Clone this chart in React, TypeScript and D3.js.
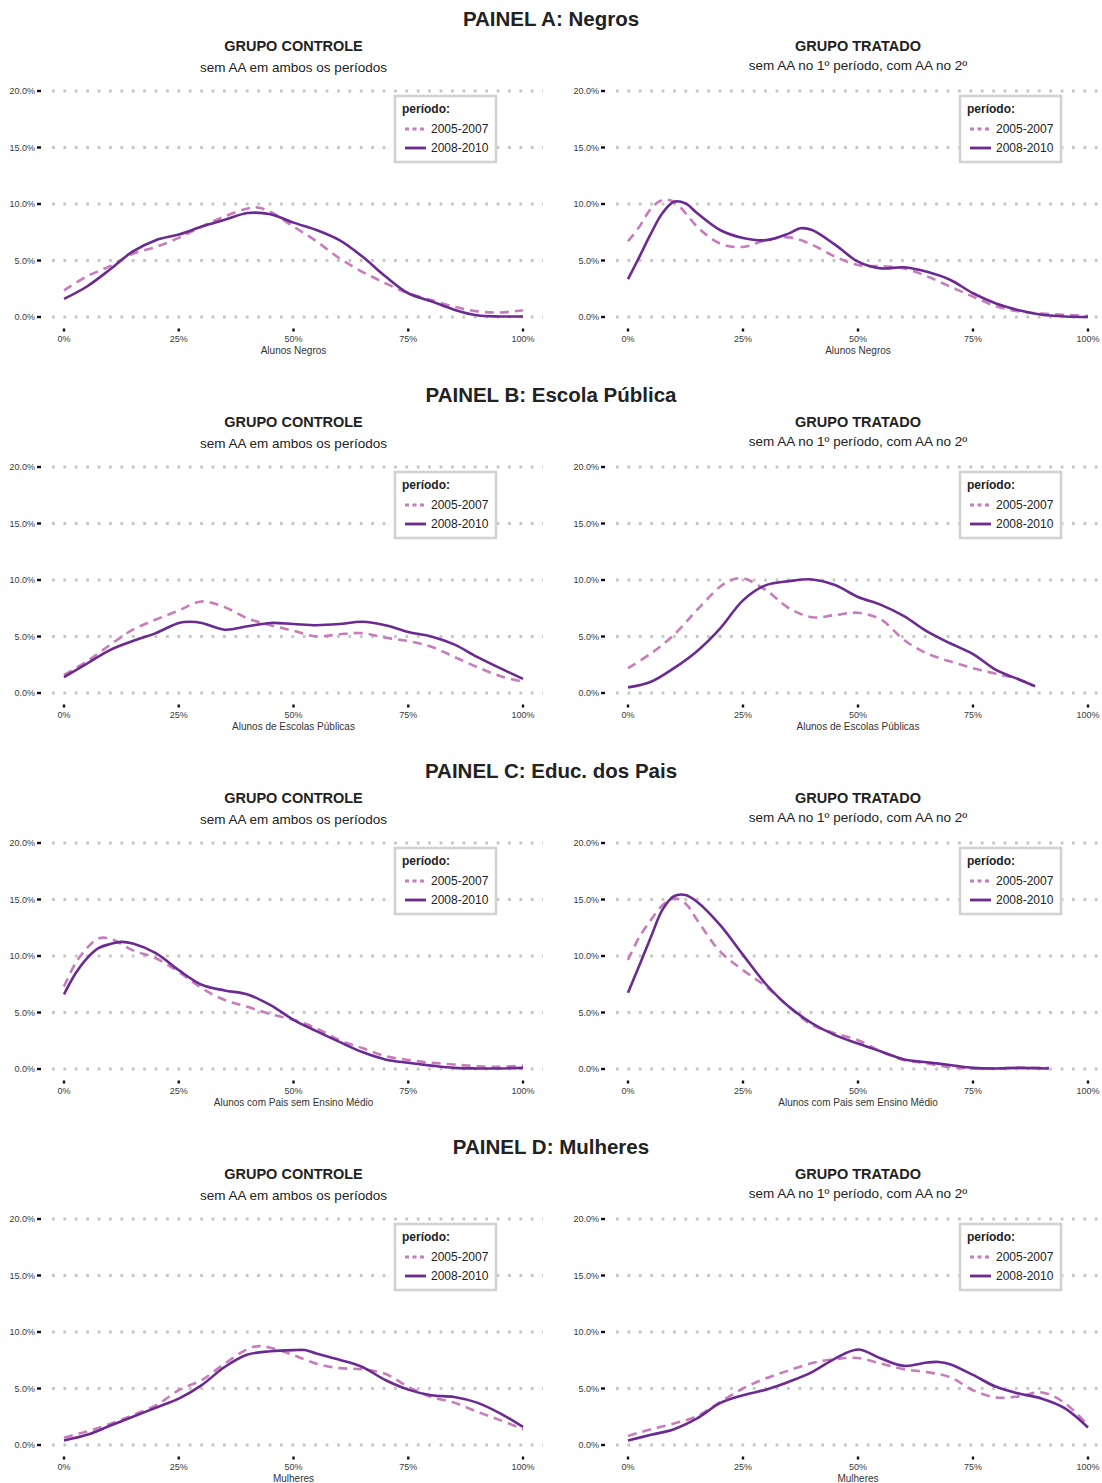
import React from "react";
import * as d3 from "d3";

type Pt = [number, number];

const WIDTH = 1102;
const HEIGHT = 1483;

const panelTitles = [
  "PAINEL A: Negros",
  "PAINEL B: Escola Pública",
  "PAINEL C: Educ. dos Pais",
  "PAINEL D: Mulheres",
];
const axisTitles = [
  "Alunos Negros",
  "Alunos de Escolas Públicas",
  "Alunos com Pais sem Ensino Médio",
  "Mulheres",
];
const groupTitles = ["GRUPO CONTROLE", "GRUPO TRATADO"];
const groupSubtitles = [
  "sem AA em ambos os períodos",
  "sem AA no 1º período, com AA no 2º",
];
const periods = ["2005-2007", "2008-2010"];
const xTicks = [0, 25, 50, 75, 100];
const xTickLabels = ["0%", "25%", "50%", "75%", "100%"];
const yTicks = [0, 5, 10, 15, 20];
const yTickLabels = ["0.0%", "5.0%", "10.0%", "15.0%", "20.0%"];

// PAINEL A
const negrosCtrl0507: Pt[] = [
  [0, 2.35], [5, 3.6], [10, 4.5], [15, 5.6], [20, 6.2], [25, 7.0], [30, 8.0], [35, 8.9],
  [40, 9.6], [42, 9.7], [45, 9.3], [50, 8.0], [55, 6.7], [60, 5.2], [65, 4.0], [70, 3.0],
  [75, 2.1], [80, 1.5], [85, 0.9], [90, 0.5], [95, 0.4], [100, 0.6],
];
const negrosCtrl0810: Pt[] = [
  [0, 1.6], [5, 2.7], [10, 4.2], [15, 5.8], [20, 6.8], [25, 7.3], [30, 8.0], [35, 8.6],
  [40, 9.2], [45, 9.1], [50, 8.35], [55, 7.7], [60, 6.8], [65, 5.35], [70, 3.6], [75, 2.1],
  [80, 1.4], [85, 0.65], [90, 0.15], [95, 0.05], [100, 0.05],
];
const negrosTrat0507: Pt[] = [
  [0, 6.7], [2.5, 8.0], [5, 9.6], [7.5, 10.35], [10, 10.2], [12.5, 9.2], [15, 8.0], [20, 6.5],
  [25, 6.2], [30, 6.8], [35, 7.05], [40, 6.4], [45, 5.35], [50, 4.6], [55, 4.5], [60, 4.3],
  [65, 3.6], [70, 2.7], [75, 1.8], [80, 0.95], [85, 0.5], [90, 0.3], [95, 0.2], [100, 0.1],
];
const negrosTrat0810: Pt[] = [
  [0, 3.35], [2.5, 5.35], [5, 7.4], [7.5, 9.2], [10, 10.2], [12.5, 10.05], [15, 9.2], [20, 7.7],
  [25, 7.0], [30, 6.8], [35, 7.4], [37.5, 7.85], [40, 7.7], [45, 6.4], [50, 4.9], [55, 4.3],
  [60, 4.4], [65, 4.0], [70, 3.3], [75, 2.1], [80, 1.2], [85, 0.6], [90, 0.2], [95, 0.05], [100, 0],
];

// PAINEL B
const escolaCtrl0507: Pt[] = [
  [0, 1.6], [5, 2.8], [10, 4.25], [15, 5.6], [20, 6.5], [25, 7.3], [30, 8.1], [35, 7.6],
  [40, 6.6], [45, 6.0], [50, 5.5], [55, 5.0], [60, 5.2], [65, 5.3], [70, 4.9], [75, 4.6],
  [80, 4.1], [85, 3.2], [90, 2.3], [95, 1.5], [100, 1.0],
];
const escolaCtrl0810: Pt[] = [
  [0, 1.4], [5, 2.6], [10, 3.8], [15, 4.6], [20, 5.3], [25, 6.2], [27.5, 6.3], [30, 6.2],
  [35, 5.6], [40, 5.9], [45, 6.2], [50, 6.1], [55, 6.0], [60, 6.1], [65, 6.3], [70, 6.0],
  [75, 5.4], [80, 5.0], [85, 4.3], [90, 3.2], [95, 2.2], [100, 1.25],
];
const escolaTrat0507: Pt[] = [
  [0, 2.2], [5, 3.5], [10, 5.15], [15, 7.35], [20, 9.4], [22.5, 10.0], [25, 10.15], [30, 9.1],
  [35, 7.5], [40, 6.7], [45, 6.9], [50, 7.1], [55, 6.5], [60, 4.7], [65, 3.5], [70, 2.8],
  [75, 2.2], [80, 1.7], [85, 1.2], [88, 0.65],
];
const escolaTrat0810: Pt[] = [
  [0, 0.5], [5, 1.0], [10, 2.2], [15, 3.7], [20, 5.7], [25, 8.2], [30, 9.55], [35, 9.9],
  [40, 10.05], [45, 9.55], [50, 8.5], [55, 7.8], [60, 6.8], [65, 5.45], [70, 4.4], [75, 3.45],
  [80, 2.05], [85, 1.2], [88.5, 0.6],
];

// PAINEL C
const paisCtrl0507: Pt[] = [
  [0, 7.3], [2.5, 9.35], [5, 10.7], [7.5, 11.55], [10, 11.55], [15, 10.5], [20, 9.8], [25, 8.6],
  [30, 7.15], [35, 6.1], [40, 5.5], [45, 4.85], [50, 4.35], [55, 3.6], [60, 2.55], [65, 1.85],
  [70, 1.15], [75, 0.8], [80, 0.55], [85, 0.4], [90, 0.25], [95, 0.2], [100, 0.3],
];
const paisCtrl0810: Pt[] = [
  [0, 6.6], [2.5, 8.45], [5, 9.8], [7.5, 10.7], [10, 11.05], [12.5, 11.25], [15, 11.1], [20, 10.25],
  [25, 8.75], [30, 7.45], [35, 6.95], [40, 6.6], [45, 5.65], [50, 4.35], [55, 3.35], [60, 2.4],
  [65, 1.5], [70, 0.85], [75, 0.55], [80, 0.3], [85, 0.1], [90, 0.05], [95, 0.05], [100, 0.1],
];
const paisTrat0507: Pt[] = [
  [0, 9.65], [2.5, 11.7], [5, 13.2], [7.5, 14.5], [10, 15.1], [12.5, 14.65], [15, 13.2], [20, 10.4],
  [25, 8.75], [30, 7.3], [35, 5.5], [40, 3.9], [45, 3.15], [50, 2.55], [55, 1.55], [60, 0.8],
  [65, 0.5], [70, 0.15], [75, 0.05], [80, 0.05], [85, 0.1], [91.5, 0.1],
];
const paisTrat0810: Pt[] = [
  [0, 6.75], [2.5, 9.2], [5, 11.7], [7.5, 14.1], [10, 15.3], [12.5, 15.4], [15, 14.8], [20, 12.75],
  [25, 10.1], [30, 7.5], [35, 5.5], [40, 4.05], [45, 3.0], [50, 2.25], [55, 1.55], [60, 0.85],
  [65, 0.6], [70, 0.35], [75, 0.1], [80, 0.05], [85, 0.1], [91.5, 0.05],
];

// PAINEL D
const mulheresCtrl0507: Pt[] = [
  [0, 0.65], [5, 1.2], [10, 1.85], [15, 2.65], [20, 3.5], [25, 4.85], [30, 5.75], [35, 7.2],
  [40, 8.5], [42.5, 8.75], [45, 8.6], [50, 7.95], [55, 7.2], [60, 6.8], [65, 6.7], [70, 6.3],
  [75, 5.15], [80, 4.25], [85, 3.75], [90, 2.95], [95, 2.2], [100, 1.4],
];
const mulheresCtrl0810: Pt[] = [
  [0, 0.4], [5, 0.9], [10, 1.7], [15, 2.5], [20, 3.3], [25, 4.1], [30, 5.3], [35, 6.9],
  [40, 8.0], [45, 8.3], [50, 8.4], [52.5, 8.4], [55, 8.1], [60, 7.55], [65, 6.9], [70, 5.75],
  [75, 4.9], [80, 4.4], [85, 4.25], [90, 3.75], [95, 2.8], [100, 1.6],
];
const mulheresTrat0507: Pt[] = [
  [0, 0.8], [5, 1.4], [10, 1.9], [15, 2.55], [20, 3.8], [25, 5.0], [30, 5.9], [35, 6.6],
  [40, 7.25], [45, 7.6], [50, 7.7], [55, 7.2], [60, 6.7], [65, 6.45], [70, 6.0], [75, 4.85],
  [80, 4.2], [85, 4.3], [90, 4.65], [95, 3.7], [100, 1.75],
];
const mulheresTrat0810: Pt[] = [
  [0, 0.4], [5, 0.9], [10, 1.4], [15, 2.35], [20, 3.7], [25, 4.4], [30, 4.9], [35, 5.6],
  [40, 6.45], [45, 7.65], [50, 8.45], [55, 7.65], [60, 7.0], [65, 7.3], [67.5, 7.35], [70, 7.15],
  [75, 6.2], [80, 5.15], [85, 4.55], [90, 4.1], [95, 3.25], [100, 1.55],
];

const panelSeries: Pt[][][][] = [
  [[negrosCtrl0507, negrosCtrl0810], [negrosTrat0507, negrosTrat0810]],
  [[escolaCtrl0507, escolaCtrl0810], [escolaTrat0507, escolaTrat0810]],
  [[paisCtrl0507, paisCtrl0810], [paisTrat0507, paisTrat0810]],
  [[mulheresCtrl0507, mulheresCtrl0810], [mulheresTrat0507, mulheresTrat0810]],
];

const COLORS = ["#c77cbb", "#6b2a92"];
const DASH = ["9,6", null];
const FONT = "'Liberation Sans', Arial, Helvetica, sans-serif";
const PANEL_STEP = 376;
const X_RANGES: [number, number][] = [
  [64, 523],
  [628, 1088],
];

function Subplot({ panel, side }: { panel: number; side: number }) {
  const off = panel * PANEL_STEP;
  const x = d3.scaleLinear().domain([0, 100]).range(X_RANGES[side]);
  const y = d3.scaleLinear().domain([0, 20]).range([317 + off, 91 + off]);
  const line = d3
    .line<Pt>()
    .x((d) => x(d[0]))
    .y((d) => y(d[1]))
    .curve(d3.curveCatmullRom.alpha(0.5));
  const cx = (x(0) + x(100)) / 2;
  const gridStart = x(0) - 12;
  const gridEnd = Math.min(x(100) + 20, WIDTH);
  const tickX = x(0) - 25;
  const legX = x(100) - 128;
  const legY = y(20) + 5;
  const series = panelSeries[panel][side];

  return (
    <g>
      <text x={cx} y={46 + off} textAnchor="middle" dominantBaseline="central"
        fontSize={14.5} fontWeight="bold" fill="#222">{groupTitles[side]}</text>
      <text x={cx} y={(side === 0 ? 67 : 65) + off} textAnchor="middle" dominantBaseline="central"
        fontSize={13.5} fill="#222">{groupSubtitles[side]}</text>

      {yTicks.map((t, i) => (
        <g key={t}>
          <line x1={gridStart} x2={gridEnd} y1={y(t)} y2={y(t)} stroke="#c6c6c6"
            strokeWidth={2.8} strokeDasharray="2.8,8.6" />
          <line x1={tickX - 2} x2={tickX + 2} y1={y(t)} y2={y(t)} stroke="#111" strokeWidth={2.4} />
          <text x={tickX - 4} y={y(t)} textAnchor="end" dominantBaseline="central"
            fontSize={9} fill="#3a3a3a">{yTickLabels[i]}</text>
        </g>
      ))}

      {xTicks.map((t, i) => (
        <g key={t}>
          <line x1={x(t)} x2={x(t)} y1={y(0) + 11.5} y2={y(0) + 14.5} stroke="#111" strokeWidth={2.4} />
          <text x={x(t)} y={y(0) + 22} textAnchor="middle" dominantBaseline="central"
            fontSize={9} fill="#3a3a3a">{xTickLabels[i]}</text>
        </g>
      ))}
      <text x={cx} y={y(0) + 33} textAnchor="middle" dominantBaseline="central"
        fontSize={10} fill="#333">{axisTitles[panel]}</text>

      {series.map((s, i) => (
        <path key={i} d={line(s) || ""} fill="none" stroke={COLORS[i]} strokeWidth={2.6}
          strokeDasharray={DASH[i] || undefined} />
      ))}

      <rect x={legX} y={legY} width={101} height={66} fill="#fff" stroke="#d2d2d2" strokeWidth={2.6} />
      <text x={legX + 7} y={legY + 13} dominantBaseline="central" fontSize={12}
        fontWeight="bold" fill="#222">período:</text>
      {periods.map((p, i) => (
        <g key={p}>
          <line x1={legX + 10} x2={legX + 31} y1={legY + 33 + i * 19} y2={legY + 33 + i * 19}
            stroke={COLORS[i]} strokeWidth={2.8} strokeDasharray={i === 0 ? "4,3.5" : undefined} />
          <text x={legX + 36} y={legY + 33 + i * 19} dominantBaseline="central" fontSize={12}
            fill="#222">{p}</text>
        </g>
      ))}
    </g>
  );
}

export default function App() {
  return (
    <div style={{ position: "absolute", left: 0, top: 0 }}>
      <svg width={WIDTH} height={HEIGHT} style={{ display: "block", background: "#fff" }}
        fontFamily={FONT}>
        {panelTitles.map((title, p) => (
          <g key={title}>
            <text x={WIDTH / 2} y={18 + p * PANEL_STEP} textAnchor="middle" dominantBaseline="central"
              fontSize={20.5} fontWeight="bold" fill="#222">{title}</text>
            <Subplot panel={p} side={0} />
            <Subplot panel={p} side={1} />
          </g>
        ))}
      </svg>
    </div>
  );
}
